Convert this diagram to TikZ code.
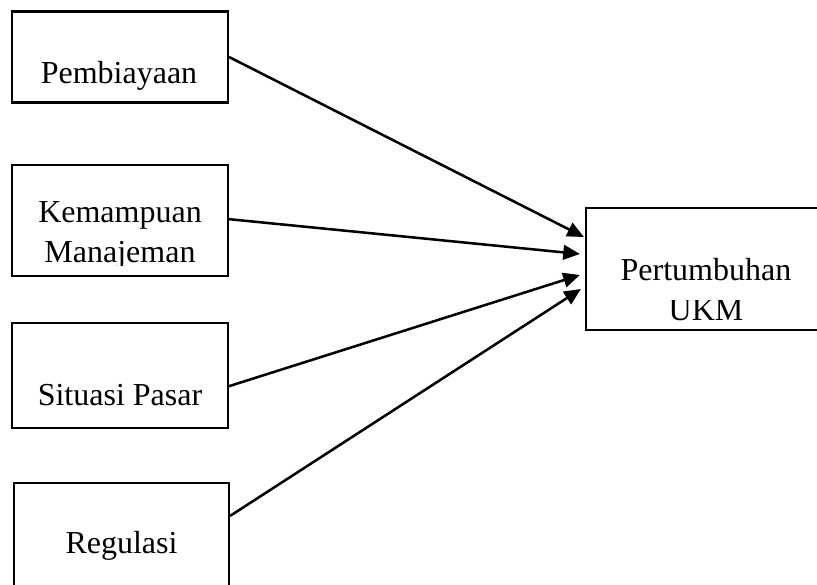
\documentclass[tikz,border=0pt]{standalone}
\usepackage{fontspec}
\setmainfont{Liberation Serif}
\usetikzlibrary{arrows.meta}

\tikzset{
  varbox/.style={draw, line width=1.6pt, rectangle, inner sep=0pt},
  vartext/.style={anchor=base, inner sep=0.75pt, font=\fontsize{24}{30}\selectfont},
  arr/.style={line width=1.9pt, -{Triangle[length=12.5pt,width=11pt]}}
}

\begin{document}
\begin{tikzpicture}[x=0.75pt,y=0.75pt,yscale=-1,xscale=1]
\useasboundingbox (0,0) rectangle (817,585);
\clip (0,0) rectangle (817,585);

%Shape: Rectangle [Pembiayaan]
\node [varbox, minimum width=162pt, minimum height=68.25pt] (biaya) at (120,57) {};
%Shape: Rectangle [Kemampuan Manajeman]
\node [varbox, minimum width=162pt, minimum height=83.25pt] (manaj) at (120,220.5) {};
%Shape: Rectangle [Situasi Pasar]
\node [varbox, minimum width=162pt, minimum height=78.75pt] (pasar) at (120,375.5) {};
%Shape: Rectangle [Regulasi]
\node [varbox, minimum width=161.25pt, minimum height=105pt] (regul) at (121.5,553) {};
%Shape: Rectangle [Pertumbuhan UKM]
\node [varbox, minimum width=180pt, minimum height=91.5pt] (ukm) at (706,269) {};

% Text Node
\node [vartext] (tbiaya) at (119,84) {Pembiayaan};
% Text Node
\node [vartext] (tmanaj1) at (120,222) {Kemampuan};
% Text Node
\begin{scope}
\clip (0,150) rectangle (400,265.5);
\node [vartext] (tmanaj2) at (120,262) {Manajeman};
\end{scope}
% Text Node
\node [vartext] (tpasar) at (120,405) {Situasi Pasar};
% Text Node
\node [vartext] (tregul) at (121.5,553) {Regulasi};
% Text Node
\node [vartext] (tukm1) at (706,280) {Pertumbuhan};
% Text Node
\begin{scope}
\clip (500,300.5) rectangle (817,340);
\node [vartext] (tukm2) at (706,320) {UKM};
\end{scope}

%Straight Lines
\draw [arr] (biaya.east) -- ([yshift=-24pt,xshift=-0.75pt]ukm.west);
%Straight Lines
\draw [arr] ([yshift=-1pt]manaj.east) -- ([yshift=-11.25pt,xshift=-3.75pt]ukm.west);
%Straight Lines
\draw [arr] ([yshift=8pt]pasar.east) -- ([yshift=4.5pt,xshift=-3.75pt]ukm.west);
%Straight Lines
\draw [arr] ([yshift=25.5pt]regul.north east) -- ([yshift=15pt,xshift=-3pt]ukm.west);

\end{tikzpicture}
\end{document}
